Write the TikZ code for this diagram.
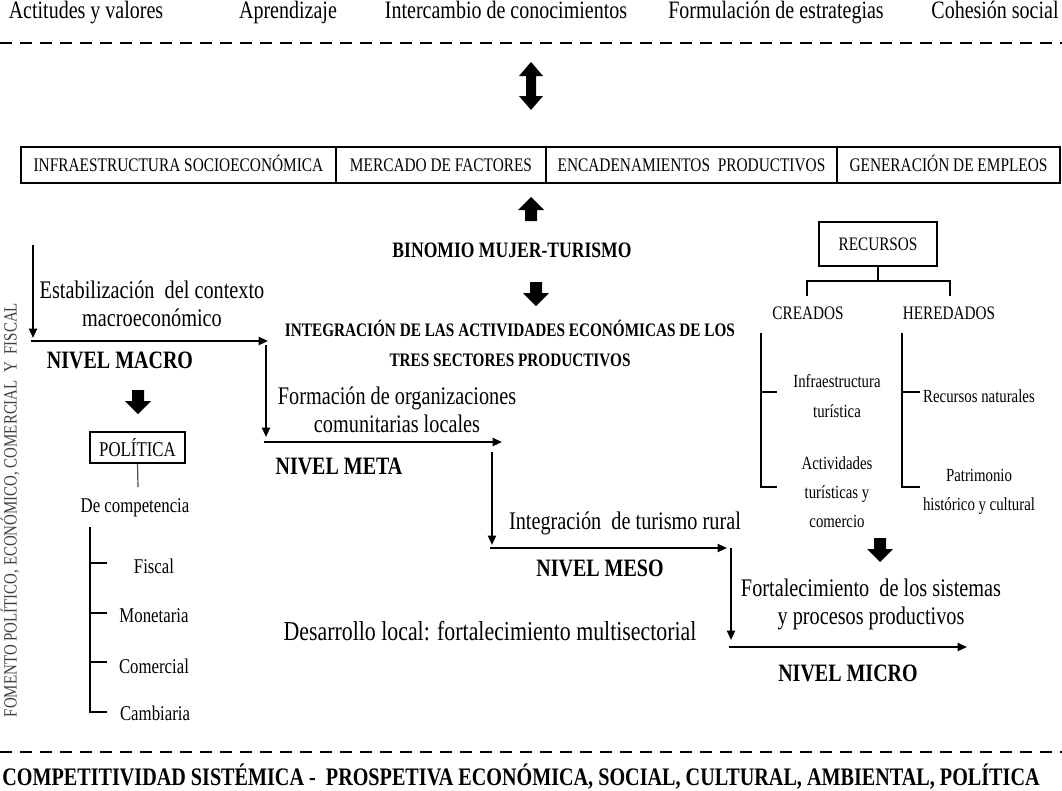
\documentclass[tikz,border=0pt]{standalone}
\usepackage{fontspec}
\setmainfont{Liberation Serif}[FakeStretch=0.8]
\usetikzlibrary{arrows.meta}
\tikzset{
  t/.style={inner sep=0pt, align=center},
  tb/.style={inner sep=0pt, anchor=base},
  ftop/.style={font=\fontsize{18.75}{21}\selectfont},
  fbody/.style={font=\fontsize{19}{21}\selectfont},
  fnivel/.style={font=\fontsize{18.75}{21}\selectfont\bfseries},
  fcell/.style={font=\fontsize{14.4}{16}\selectfont},
  fbin/.style={font=\fontsize{16.5}{18}\selectfont\bfseries},
  finteg/.style={font=\fontsize{14.3}{22.5}\selectfont\bfseries},
  fpol/.style={font=\fontsize{15.75}{18}\selectfont},
  frec/.style={font=\fontsize{13.9}{22}\selectfont},
  fcap/.style={font=\fontsize{14.3}{16}\selectfont},
  fbottom/.style={font=\fontsize{18.9}{21}\selectfont\bfseries},
  cell/.style={draw, line width=1.5pt, inner sep=0pt, minimum height=27pt, text height=10pt, text depth=0pt, fcell},
  arr/.style={line width=1.5pt, -{Triangle[length=7pt,width=6pt]}},
  ln/.style={line width=1.5pt},
  dashline/.style={line width=2.2pt, dash pattern=on 9pt off 6pt},
  pics/downblock/.style={code={\fill (-6,-12) -- (6,-12) -- (6,-1) -- (13,-1) -- (0,12) -- (-13,-1) -- (-6,-1) -- cycle;}},
  pics/upblock/.style={code={\fill (-6,12) -- (6,12) -- (6,1) -- (13,1) -- (0,-12) -- (-13,1) -- (-6,1) -- cycle;}},
  pics/dblblock/.style={code={\fill (0,-24) -- (12,-10) -- (5,-10) -- (5,10) -- (12,10) -- (0,24) -- (-12,10) -- (-5,10) -- (-5,-10) -- (-12,-10) -- cycle;}},
}
\begin{document}
\begin{tikzpicture}[x=0.75pt,y=-0.75pt]
\useasboundingbox (0,0) rectangle (1062,790);
\fill[white] (0,0) rectangle (1062,790);

% top row
\node[tb,ftop] (a1) at (86,18) {Actitudes y valores};
\node[tb,ftop] (a2) at (288,18) {Aprendizaje};
\node[tb,ftop] (a3) at (506,18) {Intercambio de conocimientos};
\node[tb,ftop] (a4) at (776,18) {Formulación de estrategias};
\node[tb,ftop] (a5) at (995,18) {Cohesión social};

\coordinate (dl1) at (0,43);
\coordinate (dr1) at (1062,43);
\draw[dashline] (dl1) -- (dr1);

\pic at (531,86) {dblblock};

% box row
\node[cell, minimum width=236.25pt] (b1) at (178.5,165) {INFRAESTRUCTURA SOCIOECONÓMICA};
\node[cell, minimum width=157.5pt] (b2) at (441,165) {MERCADO DE FACTORES};
\node[cell, minimum width=218.25pt] (b3) at (691.5,165) {ENCADENAMIENTOS\ \ PRODUCTIVOS};
\node[cell, minimum width=167.25pt] (b4) at (948.5,165) {GENERACIÓN DE EMPLEOS};

\pic at (531,209) {upblock};
\node[t,fbin] (bin) at (512,250) {BINOMIO MUJER-TURISMO};
\pic at (536,294) {downblock};
\node[t,finteg] (integ) at (510,343) {INTEGRACIÓN DE LAS ACTIVIDADES ECONÓMICAS DE LOS\\TRES SECTORES PRODUCTIVOS};

% macro
\coordinate (m0) at (33,245);
\coordinate (m1) at (33,338);
\draw[arr] (m0) -- (m1);
\coordinate (m2) at (31,341);
\coordinate (m3) at (268,341);
\draw[arr] (m2) -- (m3);
\node[t,fbody] (estab) at (152,304) {Estabilización\ \ del contexto\\macroeconómico};
\node[t,fnivel] (macro) at (120,360) {NIVEL MACRO};

% meta
\coordinate (e0) at (266,345);
\coordinate (e1) at (266,437);
\draw[arr] (e0) -- (e1);
\coordinate (e2) at (264,442);
\coordinate (e3) at (502,442);
\draw[arr] (e2) -- (e3);
\node[t,fbody] (form) at (397,410) {Formación de organizaciones\\comunitarias locales};
\node[t,fnivel] (meta) at (339,466) {NIVEL META};

% meso
\coordinate (s0) at (492,452);
\coordinate (s1) at (492,545);
\draw[arr] (s0) -- (s1);
\coordinate (s2) at (490,548);
\coordinate (s3) at (727,548);
\draw[arr] (s2) -- (s3);
\node[t,fbody] (turis) at (625,523) {Integración\ \ de turismo rural};
\node[t,fnivel] (meso) at (600,568) {NIVEL MESO};

% micro
\coordinate (c0) at (731,548);
\coordinate (c1) at (731,640);
\draw[arr] (c0) -- (c1);
\coordinate (c2) at (729,647);
\coordinate (c3) at (967,647);
\draw[arr] (c2) -- (c3);
\node[t,fbody] (fort) at (871,604) {Fortalecimiento\ \ de los sistemas\\y procesos productivos};
\node[t,fnivel] (micro) at (848,673) {NIVEL MICRO};
\node[t,font=\fontsize{20.5}{22}\selectfont] (desa) at (490,631) {Desarrollo local: fortalecimiento multisectorial};

% politica
\pic at (138,402) {downblock};
\node[draw, line width=1.2pt, inner sep=0pt, minimum width=71.25pt, minimum height=23.25pt, fpol] (pol) at (137.5,447.5) {POLÍTICA};
\coordinate (p0) at (138,487);
\draw[line width=0.9pt, black!70] (pol.south) -- (p0);
\node[t,fpol] (comp) at (135,508) {De competencia};
\coordinate (k0) at (90,527);
\coordinate (k1) at (90,712);
\coordinate (k2) at (107,712);
\draw[ln] (k0) -- (k1) -- (k2);
\coordinate (kf) at (90,563); \coordinate (kfe) at (107,563);
\coordinate (km) at (90,613); \coordinate (kme) at (107,613);
\coordinate (kc) at (90,662); \coordinate (kce) at (107,662);
\draw[ln] (kf) -- (kfe);
\draw[ln] (km) -- (kme);
\draw[ln] (kc) -- (kce);
\node[t,fpol] (fis) at (154,566) {Fiscal};
\node[t,fpol] (mon) at (154,616) {Monetaria};
\node[t,fpol] (com) at (154,666) {Comercial};
\node[t,fpol] (cam) at (155,713) {Cambiaria};

% recursos
\node[draw, line width=1.5pt, inner sep=0pt, minimum width=88.5pt, minimum height=33pt, fcap] (rec) at (878,244) {RECURSOS};
\coordinate (r0) at (878,281);
\draw[ln] (rec.south) -- (r0);
\coordinate (rl) at (807,296);
\coordinate (rl0) at (807,281);
\coordinate (rr0) at (950,281);
\coordinate (rr) at (950,296);
\draw[ln] (rl) -- (rl0) -- (rr0) -- (rr);
\node[t,fcap] (crea) at (808,313) {CREADOS};
\node[t,fcap] (here) at (949,313) {HEREDADOS};

\coordinate (q0) at (761,333);
\coordinate (q1) at (761,487);
\coordinate (q2) at (777,487);
\coordinate (q3) at (761,392);
\coordinate (q4) at (777,392);
\draw[ln] (q0) -- (q1) -- (q2);
\draw[ln] (q3) -- (q4);
\coordinate (h0) at (902,333);
\coordinate (h1) at (902,487);
\coordinate (h2) at (920,487);
\coordinate (h3) at (902,392);
\coordinate (h4) at (920,392);
\draw[ln] (h0) -- (h1) -- (h2);
\draw[ln] (h3) -- (h4);
\node[t,frec] (infra) at (837,396) {Infraestructura\\turística};
\node[t,frec] (acti) at (837,492) {Actividades\\turísticas y\\comercio};
\node[t,frec] (rnat) at (979,396) {Recursos naturales};
\node[t,frec] (patr) at (979,492) {Patrimonio\\histórico y cultural};
\pic at (880,550) {downblock};

% left vertical
\node[t, rotate=90, font=\fontsize{14}{16}\selectfont, black!75] (fom) at (10,510) {FOMENTO POLÍTICO, ECONÓMICO, COMERCIAL\ \ Y\ \ FISCAL};

% bottom
\coordinate (dl2) at (0,752);
\coordinate (dr2) at (1062,752);
\draw[dashline, line width=1.8pt] (dl2) -- (dr2);
\node[t,fbottom] (bot) at (521,777) {COMPETITIVIDAD SISTÉMICA -\ \ PROSPETIVA ECONÓMICA, SOCIAL, CULTURAL, AMBIENTAL, POLÍTICA};
\end{tikzpicture}
\end{document}
